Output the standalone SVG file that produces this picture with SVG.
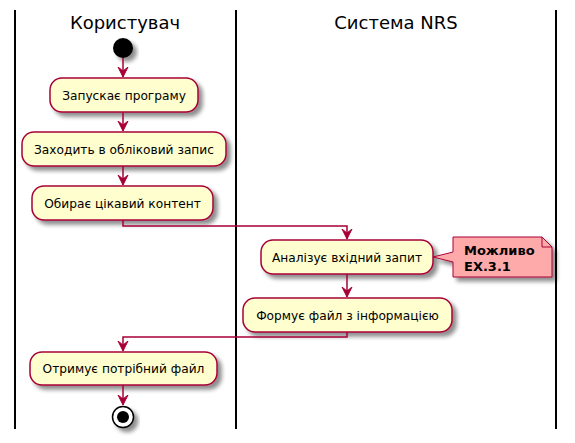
<svg xmlns="http://www.w3.org/2000/svg" width="575" height="443" viewBox="0 0 575 443">
<defs>
<filter id="sh" x="-20%" y="-20%" width="150%" height="160%">
<feGaussianBlur in="SourceAlpha" stdDeviation="2"/>
<feOffset dx="4" dy="4" result="b"/>
<feComponentTransfer><feFuncA type="linear" slope="0.45"/></feComponentTransfer>
<feMerge><feMergeNode/><feMergeNode in="SourceGraphic"/></feMerge>
</filter>
<marker id="ah" viewBox="0 0 12 12" refX="10" refY="6" markerWidth="12" markerHeight="12" markerUnits="userSpaceOnUse" orient="auto">
<path d="M0,1 L10,6 L0,11 L4,6 Z" fill="#A80036" stroke="#A80036" stroke-width="1"/>
</marker>
</defs>
<style>
.lane{stroke:#000;stroke-width:2}
.title{font-family:"DejaVu Sans",sans-serif;font-size:18px;fill:#000;text-anchor:middle}
.act rect{fill:#FEFECE;stroke:#A80036;stroke-width:1.5;filter:url(#sh)}
.act text{font-family:"DejaVu Sans",sans-serif;font-size:12.2px;fill:#000;text-anchor:middle}
.conn path{fill:none;stroke:#A80036;stroke-width:1.5;marker-end:url(#ah)}
.note text{font-family:"DejaVu Sans",sans-serif;font-size:13px;font-weight:bold;fill:#000}
</style>
<g id="lanes">
<line class="lane" x1="15" y1="10" x2="15" y2="429"/>
<line class="lane" x1="236" y1="10" x2="236" y2="429"/>
<line class="lane" x1="556" y1="10" x2="556" y2="429"/>
<text class="title" x="125" y="29">Користувач</text>
<text class="title" x="396" y="29">Система NRS</text>
</g>
<g id="start"><circle cx="123" cy="48" r="10" fill="#000" filter="url(#sh)"/></g>
<g id="a1" class="act"><rect x="50" y="78" width="148" height="34" rx="12"/><text x="124" y="99.5">Запускає програму</text></g>
<g id="a2" class="act"><rect x="22" y="132" width="204" height="34" rx="12"/><text x="124" y="153.5">Заходить в обліковий запис</text></g>
<g id="a3" class="act"><rect x="32" y="186" width="181" height="34" rx="12"/><text x="122.5" y="207.5">Обирає цікавий контент</text></g>
<g id="a4" class="act"><rect x="261" y="240" width="172" height="34" rx="12"/><text x="347" y="261.5">Аналізує вхідний запит</text></g>
<g id="a5" class="act"><rect x="243" y="298" width="209" height="34" rx="12"/><text x="347.5" y="319.5">Формує файл з інформацією</text></g>
<g id="a6" class="act"><rect x="30" y="352" width="187" height="33" rx="12"/><text x="123.5" y="373">Отримує потрібний файл</text></g>
<g id="note" class="note">
<path d="M453,237 L542,237 L552,247 L552,277 L453,277 L453,262 L433,257 L453,252 Z" fill="#FFAAAA" stroke="#A80036" stroke-width="1" filter="url(#sh)"/>
<path d="M542,237 L542,247 L552,247" fill="none" stroke="#A80036" stroke-width="1"/>
<text x="464" y="255">Можливо</text>
<text x="464" y="271">EX.3.1</text>
</g>
<g id="end">
<circle cx="123" cy="417" r="10.5" fill="#fff" stroke="#000" stroke-width="1.5" filter="url(#sh)"/>
<circle cx="123" cy="417" r="6" fill="#000"/>
</g>
<g id="connectors" class="conn">
<path d="M123,58 L123,77"/>
<path d="M123,112 L123,131"/>
<path d="M123,166 L123,185"/>
<path d="M123,220 L123,226 L347,226 L347,239"/>
<path d="M347,274 L347,297"/>
<path d="M347,332 L347,337 L123,337 L123,351"/>
<path d="M123,385 L123,405"/>
</g>
</svg>
